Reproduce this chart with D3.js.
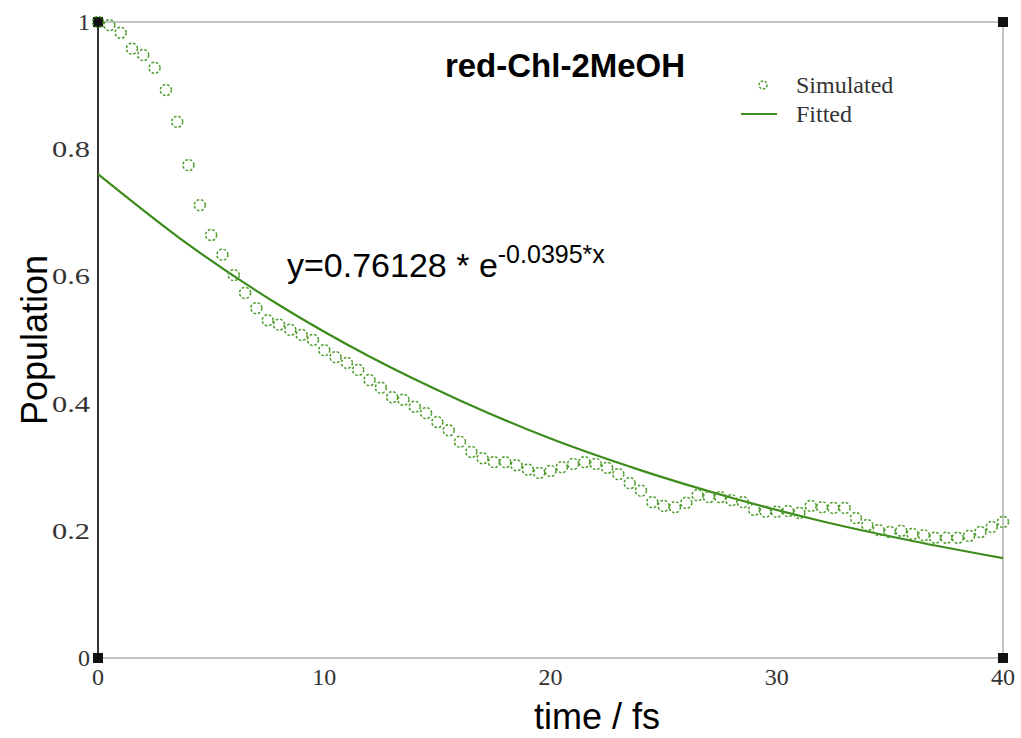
<!DOCTYPE html>
<html>
<head>
	<meta charset='utf-8'>
	<script src="https://cdnjs.cloudflare.com/ajax/libs/d3/7.8.5/d3.min.js" charset="utf-8"></script>
	<style>
	body {
		margin:0;
		background:#fff;
	}
	.tick-label {
		font-family:'Liberation Serif', 'DejaVu Serif', serif;
		font-size:24px;
		fill:#333;
	}
	.big {
		font-family:'Liberation Sans', Arial, sans-serif;
		fill:#000;
	}
	</style>
</head>
<body>
	<script>

	var canvasWidth = 1021,
		canvasHeight = 738;

	var margin = {'top':22, 'right':18, 'bottom':80, 'left':98};

	// simulated population, every half femtosecond
	var simTimes = [0, 0.5, 1, 1.5, 2, 2.5, 3, 3.5, 4, 4.5, 5, 5.5, 6, 6.5, 7, 7.5, 8, 8.5, 9, 9.5,
		10, 10.5, 11, 11.5, 12, 12.5, 13, 13.5, 14, 14.5, 15, 15.5, 16, 16.5, 17, 17.5, 18, 18.5, 19, 19.5,
		20, 20.5, 21, 21.5, 22, 22.5, 23, 23.5, 24, 24.5, 25, 25.5, 26, 26.5, 27, 27.5, 28, 28.5, 29, 29.5,
		30, 30.5, 31, 31.5, 32, 32.5, 33, 33.5, 34, 34.5, 35, 35.5, 36, 36.5, 37, 37.5, 38, 38.5, 39, 39.5, 40];
	var simValues = [1.000, 0.995, 0.983, 0.958, 0.948, 0.928, 0.893, 0.843, 0.775, 0.712,
		0.665, 0.634, 0.602, 0.574, 0.550, 0.531, 0.524, 0.516, 0.508, 0.500,
		0.484, 0.473, 0.464, 0.453, 0.437, 0.425, 0.410, 0.406, 0.395, 0.385,
		0.371, 0.358, 0.340, 0.324, 0.314, 0.308, 0.308, 0.303, 0.296, 0.291,
		0.294, 0.300, 0.305, 0.308, 0.305, 0.299, 0.289, 0.275, 0.263, 0.245,
		0.239, 0.237, 0.244, 0.256, 0.253, 0.253, 0.248, 0.245, 0.233, 0.230,
		0.230, 0.231, 0.228, 0.239, 0.237, 0.236, 0.236, 0.220, 0.209, 0.201,
		0.198, 0.200, 0.195, 0.193, 0.189, 0.189, 0.189, 0.192, 0.198, 0.206, 0.214];

	// fitted curve read at a few times
	var fitTimes = [0, 4, 8, 12, 16, 20, 24, 28, 32, 36, 40];
	var fitValues = [0.761, 0.650, 0.555, 0.474, 0.405, 0.345, 0.295, 0.252, 0.215, 0.184, 0.157];

	var xTicks = [0, 10, 20, 30, 40];
	var yTicks = [0, 0.2, 0.4, 0.6, 0.8, 1];

	var green = '#3c8c1c',
		dotGreen = '#4c9c2a';

	var x = d3.scaleLinear().domain([0, 40]).range([margin.left, canvasWidth - margin.right]);
	var y = d3.scaleLinear().domain([0, 1]).range([canvasHeight - margin.bottom, margin.top]);

	var svg = d3.select('body').append('svg').attr('width', canvasWidth).attr('height', canvasHeight);

	// frame: grey top / bottom / right, dark left axis
	svg.append('rect').attr('x', x(0)).attr('y', y(1)).attr('width', x(40) - x(0)).attr('height', y(0) - y(1))
		.attr('fill', 'none').attr('stroke', '#c4c4c4').attr('stroke-width', 2);
	svg.append('line').attr('x1', x(0)).attr('x2', x(0)).attr('y1', y(1)).attr('y2', y(0))
		.attr('stroke', '#333').attr('stroke-width', 2);

	// corner squares
	var corners = [[0, 0], [0, 1], [40, 0], [40, 1]];
	svg.selectAll('.corner').data(corners).enter().append('rect').attr('class', 'corner')
		.attr('x', function (d) { return x(d[0]) - 5; })
		.attr('y', function (d) { return y(d[1]) - 5; })
		.attr('width', 10).attr('height', 10).attr('fill', '#111');

	// tick labels (the y ones are drawn stretched in the original)
	svg.selectAll('.ylab').data(yTicks).enter().append('text').attr('class', 'tick-label')
		.attr('x', x(0) - 8).attr('y', function (d) { return y(d) + 8; })
		.attr('text-anchor', 'end')
		.attr('textLength', function (d) { return String(d).length > 1 ? 38 : null; })
		.attr('lengthAdjust', 'spacingAndGlyphs')
		.text(function (d) { return d; });
	svg.selectAll('.xlab').data(xTicks).enter().append('text').attr('class', 'tick-label')
		.attr('x', function (d) { return x(d); }).attr('y', y(0) + 27)
		.attr('text-anchor', 'middle').text(function (d) { return d; });

	// fitted line
	var fitLine = d3.line().x(function (d, i) { return x(fitTimes[i]); }).y(function (d) { return y(d); })
		.curve(d3.curveMonotoneX);
	svg.append('path').datum(fitValues).attr('d', fitLine)
		.attr('fill', 'none').attr('stroke', green).attr('stroke-width', 2.2);

	// simulated points
	svg.selectAll('.sim').data(simValues).enter().append('circle').attr('class', 'sim')
		.attr('cx', function (d, i) { return x(simTimes[i]); })
		.attr('cy', function (d) { return y(d); })
		.attr('r', 5.5)
		.attr('fill', 'none').attr('stroke', dotGreen).attr('stroke-width', 1.5)
		.attr('stroke-dasharray', '2.6,1.8');

	// legend
	svg.append('circle').attr('cx', 763).attr('cy', 85).attr('r', 4)
		.attr('fill', 'none').attr('stroke', dotGreen).attr('stroke-width', 1.5).attr('stroke-dasharray', '2.4,1.6');
	svg.append('text').attr('class', 'tick-label').attr('x', 796).attr('y', 93).attr('fill', '#222').text('Simulated');
	svg.append('line').attr('x1', 741).attr('x2', 777).attr('y1', 114).attr('y2', 114)
		.attr('stroke', green).attr('stroke-width', 2.2);
	svg.append('text').attr('class', 'tick-label').attr('x', 796).attr('y', 122).attr('fill', '#222').text('Fitted');

	// title
	svg.append('text').attr('class', 'big').attr('x', 565).attr('y', 77)
		.attr('text-anchor', 'middle').attr('font-size', 33).attr('font-weight', 'bold').text('red-Chl-2MeOH');

	// equation
	var eq = svg.append('text').attr('class', 'big').attr('x', 287).attr('y', 277).attr('font-size', 34);
	eq.append('tspan').text('y=0.76128 * e');
	eq.append('tspan').attr('font-size', 25).attr('dy', -14).text('-0.0395*x');

	// axis titles
	svg.append('text').attr('class', 'big').attr('x', 597).attr('y', 729)
		.attr('text-anchor', 'middle').attr('font-size', 36).text('time / fs');
	svg.append('text').attr('class', 'big').attr('transform', 'translate(47,340) rotate(-90)')
		.attr('text-anchor', 'middle').attr('font-size', 36).text('Population');

	</script>
</body>
</html>
